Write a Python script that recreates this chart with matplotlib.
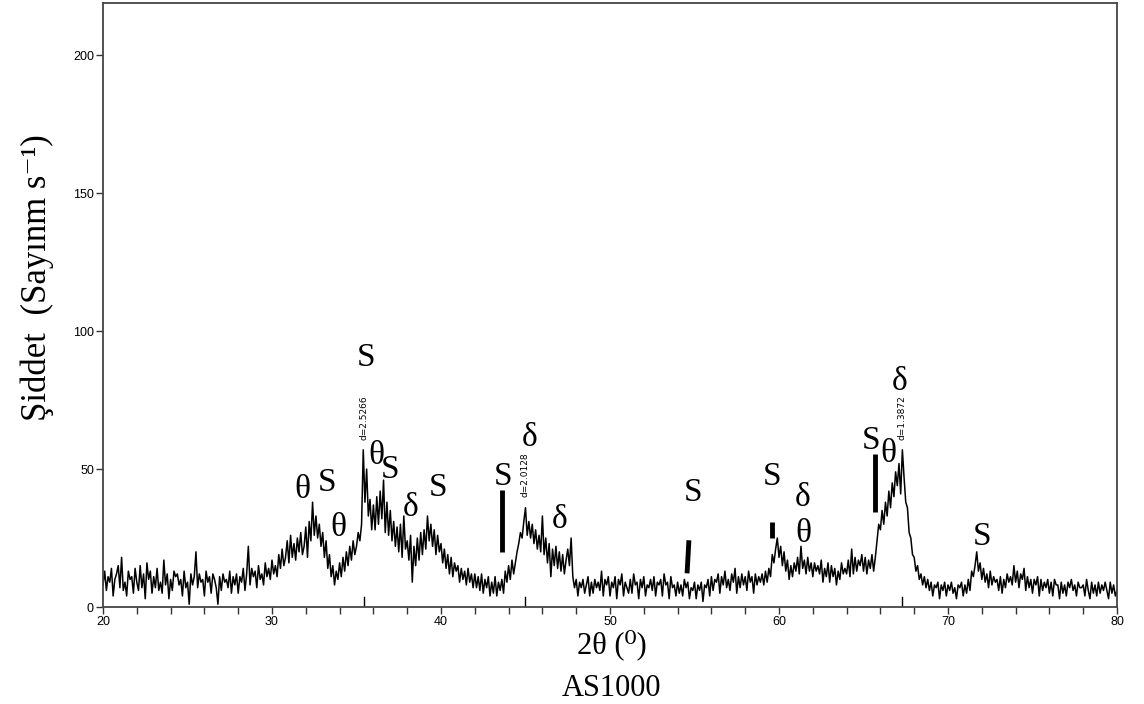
import numpy as np
import matplotlib
matplotlib.use("Agg")
import matplotlib.pyplot as plt

# ---- data (2theta from 20.0 to 80.0 in 0.1 steps) ----
two_theta_start = 20.0
two_theta_step = 0.1
intensity = [
    8, 13, 6, 11, 9, 14, 4, 10, 12, 15,
    7, 18, 6, 9, 4, 13, 10, 11, 5, 14,
    9, 6, 15, 7, 12, 3, 16, 10, 13, 5,
    11, 7, 14, 6, 9, 5, 17, 8, 12, 3,
    10, 6, 13, 11, 12, 8, 10, 4, 13, 7,
    9, 1, 12, 8, 11, 20, 7, 12, 9, 10,
    4, 13, 9, 11, 5, 12, 10, 7, 1, 11,
    6, 12, 9, 10, 7, 13, 5, 11, 8, 12,
    5, 11, 9, 14, 6, 12, 22, 8, 14, 11,
    13, 7, 15, 10, 12, 8, 16, 11, 14, 10,
    17, 12, 15, 11, 19, 14, 21, 15, 18, 24,
    16, 26, 18, 23, 17, 25, 20, 27, 19, 22,
    29, 18, 31, 24, 38, 26, 33, 25, 30, 22,
    27, 18, 24, 14, 19, 11, 15, 8, 13, 10,
    16, 11, 18, 13, 20, 15, 22, 17, 24, 19,
    22, 27, 24, 30, 57, 38, 50, 33, 39, 28,
    37, 28, 40, 30, 42, 32, 46, 27, 38, 26,
    35, 24, 31, 22, 29, 20, 30, 18, 33, 21,
    24, 17, 26, 9, 22, 15, 25, 17, 27, 19,
    28, 21, 33, 24, 30, 22, 28, 19, 26, 20,
    23, 16, 21, 14, 19, 12, 18, 11, 16, 13,
    15, 9, 14, 10, 13, 8, 14, 9, 12, 7,
    12, 7, 11, 6, 12, 5, 10, 7, 11, 4,
    9, 5, 11, 4, 9, 6, 10, 5, 13, 9,
    15, 10, 17, 12, 16, 20, 23, 27, 25, 31,
    36, 26, 31, 25, 30, 23, 28, 21, 26, 20,
    33, 19, 25, 16, 23, 11, 21, 15, 22, 14,
    20, 13, 19, 12, 17, 21, 15, 25, 11, 7,
    10, 4, 9, 7, 10, 5, 8, 11, 4, 9,
    5, 10, 7, 9, 6, 13, 4, 10, 8, 11,
    4, 9, 7, 11, 3, 10, 8, 12, 4, 9,
    7, 5, 10, 5, 12, 8, 9, 3, 10, 7,
    11, 4, 8, 7, 10, 6, 11, 4, 9, 8,
    10, 4, 12, 8, 9, 3, 11, 7, 8, 4,
    9, 5, 8, 4, 10, 7, 9, 3, 7, 6,
    9, 3, 8, 6, 9, 2, 8, 7, 10, 4,
    11, 6, 10, 9, 12, 5, 11, 8, 13, 7,
    10, 6, 12, 9, 14, 5, 11, 7, 12, 8,
    11, 6, 13, 9, 11, 5, 12, 8, 11, 9,
    12, 8, 13, 9, 14, 11, 19, 16, 21, 25,
    18, 22, 15, 20, 13, 17, 10, 15, 11, 16,
    13, 18, 12, 22, 14, 17, 12, 18, 13, 16,
    11, 16, 13, 15, 12, 17, 9, 14, 11, 16,
    9, 15, 11, 14, 8, 13, 10, 16, 12, 14,
    12, 17, 11, 21, 12, 18, 13, 17, 15, 19,
    13, 18, 12, 17, 14, 19, 13, 18, 24, 30,
    28, 35, 30, 38, 33, 42, 36, 45, 40, 49,
    44, 52, 41, 57, 47, 38, 36, 27, 25, 19,
    18, 13, 15, 10, 12, 8, 11, 7, 10, 6,
    9, 4, 8, 7, 9, 3, 8, 6, 9, 4,
    8, 6, 9, 5, 7, 3, 8, 7, 9, 4,
    8, 5, 10, 6, 13, 11, 15, 20, 13, 16,
    10, 14, 9, 12, 7, 13, 8, 11, 9, 10,
    6, 11, 5, 10, 7, 12, 9, 11, 8, 15,
    9, 13, 7, 12, 10, 14, 6, 11, 7, 10,
    5, 10, 8, 11, 4, 10, 6, 9, 7, 10,
    5, 9, 4, 10, 8, 8, 3, 9, 5, 8,
    4, 9, 7, 10, 6, 8, 4, 9, 7, 7,
    8, 4, 10, 6, 3, 9, 5, 8, 4, 9,
    5, 8, 6, 9, 6, 3, 9, 5, 8, 4,
    6,
]

# phase labels: (symbol, x, y)
phase_labels = [
    ("θ", 31.8, 42.4), ("S", 33.25, 45.2), ("θ", 33.95, 28.6),
    ("S", 35.55, 90.3), ("θ", 36.15, 55.0), ("S", 37.0, 49.6),
    ("δ", 38.2, 36.0), ("S", 39.8, 43.4), ("S", 43.67, 47.1),
    ("δ", 45.27, 61.3), ("δ", 47.04, 31.5), ("S", 54.9, 41.6),
    ("S", 59.6, 47.4), ("δ", 61.42, 39.5), ("θ", 61.42, 26.4),
    ("S", 65.44, 60.1), ("θ", 66.45, 55.4), ("δ", 67.16, 81.6),
    ("S", 72.0, 25.3),
]
# marker bars: (x_bottom, y_bottom, x_top, y_top)
phase_bars = [
    (43.6, 19.9, 43.6, 42.4),
    (54.56, 12.2, 54.67, 24.2),
    (59.6, 25.0, 59.6, 30.8),
    (65.68, 34.4, 65.68, 55.4),
]
# d-spacing labels: (x, y_bottom, text)
d_labels = [
    (35.45, 60.5, "d=2.5266"),
    (45.0, 39.8, "d=2.0128"),
    (67.3, 60.5, "d=1.3872"),
]

x_ticks = [20, 30, 40, 50, 60, 70, 80]
y_ticks = [0, 50, 100, 150, 200]

serif = ["Liberation Serif", "DejaVu Serif"]

# ---- plot ----
W, H = 1144, 704
fig = plt.figure(figsize=(W / 100, H / 100), dpi=100)
ax = fig.add_axes([103 / W, 1 - 607 / H, (1117 - 103) / W, (607 - 3) / H])

x = two_theta_start + two_theta_step * np.arange(len(intensity))
ax.plot(x, intensity, color="black", lw=1.1)

ax.set_xlim(20, 80)
ax.set_ylim(0, 219)
ax.set_xticks(x_ticks)
ax.set_xticks(np.arange(20, 81, 2), minor=True)
ax.set_yticks(y_ticks)
ax.tick_params(axis="both", which="both", direction="out", length=5, width=1,
               colors="#333333", labelsize=9, pad=1.5)
for lbl in ax.get_xticklabels() + ax.get_yticklabels():
    lbl.set_family("Liberation Sans")
    lbl.set_color("black")
for sp in ax.spines.values():
    sp.set_color("#444444")
    sp.set_linewidth(1.3)

for sym, lx, ly in phase_labels:
    ax.text(lx, ly, sym, ha="center", va="center", fontsize=24,
            family=serif, color="black")
for x0, y0, x1, y1 in phase_bars:
    ax.plot([x0, x1], [y0, y1], color="black", lw=3.5, solid_capstyle="butt")
for dx, dy, txt in d_labels:
    ax.text(dx, dy, txt, rotation=90, ha="center", va="bottom", fontsize=6.5,
            family="Liberation Sans Narrow", color="black")
    ax.plot([dx, dx], [0, 3.6], color="black", lw=1.0)

fig.text(612 / W, 1 - 645 / H, "2θ (⁰)", ha="center", va="center",
         fontsize=22, family=serif)
fig.text(612 / W, 1 - 689 / H, "AS1000", ha="center", va="center",
         fontsize=22, family=serif)
fig.text(37 / W, 1 - 278 / H, "Şiddet  (Sayınm s⁻¹)", rotation=90,
         ha="center", va="center", fontsize=25, family=serif)

fig.savefig("out.png", dpi=100)
